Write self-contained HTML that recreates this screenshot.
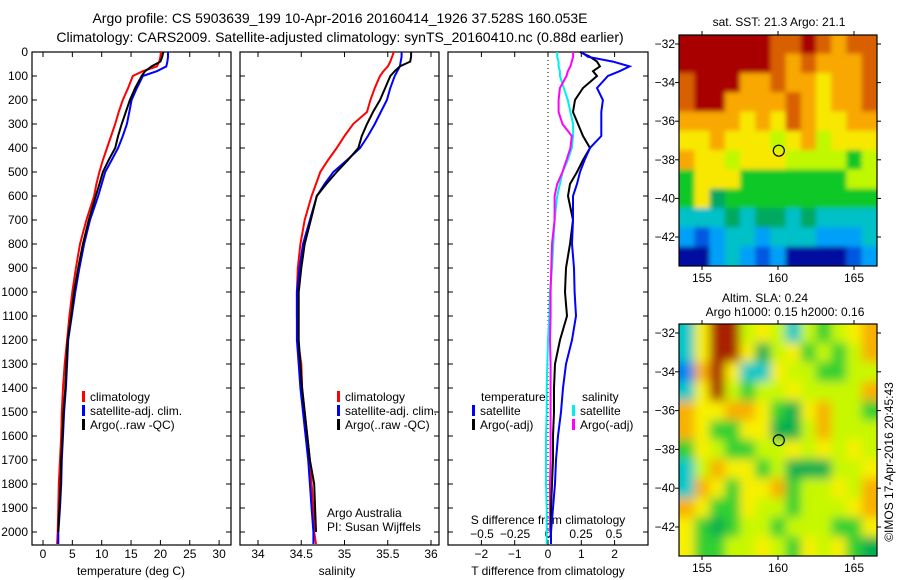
<!DOCTYPE html>
<html><head><meta charset="utf-8"><style>
body{margin:0;background:#fff}
svg{display:block;font-family:"Liberation Sans",sans-serif}
</style></head><body>
<svg id="s" width="900" height="580" viewBox="0 0 900 580" xmlns="http://www.w3.org/2000/svg">
<defs>
<filter id="b1" x="-10%" y="-10%" width="120%" height="120%"><feGaussianBlur stdDeviation="2.5"/></filter>
<filter id="b2" x="-10%" y="-10%" width="120%" height="120%"><feGaussianBlur stdDeviation="5"/></filter>
<clipPath id="c1"><rect x="679" y="35" width="198" height="231"/></clipPath>
<clipPath id="c2"><rect x="679" y="324" width="198" height="232"/></clipPath>
</defs>
<text x="340" y="23" font-size="14" text-anchor="middle">Argo profile: CS 5903639_199 10-Apr-2016 20160414_1926 37.528S 160.053E</text>
<text x="340" y="42" font-size="14" text-anchor="middle">Climatology: CARS2009. Satellite-adjusted climatology: synTS_20160410.nc (0.88d earlier)</text>
<g id="g"></g>
</svg>
<script>
// ---- data ----
const depths=[0,20,40,60,80,100,150,200,250,300,350,400,450,500,550,600,700,800,900,1000,1100,1200,1300,1400,1500,1600,1700,1800,1900,2000,2050];
const tClim=[20.1,20,19.8,19.4,17,15.3,14.5,13.6,12.9,12.3,11.6,10.9,10.2,9.6,9.1,8.7,7.4,6.3,5.6,5,4.5,4.1,3.7,3.4,3.2,3.1,2.9,2.7,2.6,2.5,2.4];
const tSat=[21.3,21.3,21.2,21,19.4,17,16,15.1,14.7,14.3,13.6,12.8,11.7,10.6,10,9.4,8,7,6.2,5.5,4.9,4.3,4.1,3.9,3.6,3.4,3.2,3.1,2.9,2.6,2.6];
const tArgo=[20.5,20.3,20,18.5,17.4,16.8,15.7,14.8,14.1,13.4,12.8,12.3,11.2,10.2,9.6,9,7.8,6.8,6,5.3,4.8,4.2,4,3.8,3.5,3.3,3.1,3,2.8,2.6,null];
const sClim=[35.57,35.55,35.53,35.5,35.45,35.41,35.35,35.3,35.26,35.1,35,34.91,34.81,34.72,34.67,34.62,34.54,34.49,34.46,34.45,34.45,34.46,34.5,34.51,34.54,34.57,34.6,34.62,34.64,34.65,34.67];
const sSat=[35.66,35.66,35.65,35.64,35.61,35.58,35.53,35.49,35.42,35.35,35.27,35.18,35.03,34.87,34.77,34.68,34.6,34.52,34.48,34.45,34.45,34.45,34.47,34.49,34.52,34.55,34.58,34.6,34.62,34.64,34.64];
const sArgo=[35.77,35.77,35.76,35.64,35.58,35.53,35.47,35.41,35.33,35.26,35.2,35.16,35.04,34.91,34.79,34.68,34.61,34.54,34.5,34.47,34.47,34.47,34.49,34.51,34.54,34.57,34.6,34.65,34.66,34.67,null];
const dTsat=[1,1.2,1.95,2.45,2.15,1.8,1.47,1.65,1.6,1.6,1.6,1.26,1.1,0.96,0.87,0.75,0.75,0.72,0.78,0.8,0.84,0.72,0.54,0.45,0.39,0.3,0.24,0.21,0.15,0.09,0.09];
const dTargo=[0.96,1.26,1.47,1.56,1.35,1.47,1.05,0.81,0.75,0.9,1.05,1.26,1.05,0.87,0.66,0.6,0.75,0.66,0.54,0.51,0.57,0.36,0.21,0.18,0.18,0.15,0.15,0.12,0.09,0.09,null];
const dSsat=[0.07,0.07,0.08,0.08,0.09,0.09,0.12,0.15,0.17,0.19,0.19,0.18,0.15,0.11,0.09,0.07,0.05,0.04,0.03,0.015,0.01,0,-0.005,-0.01,-0.01,-0.015,-0.015,-0.015,-0.01,-0.01,-0.01];
const dSargo=[0.19,0.19,0.18,0.17,0.15,0.14,0.09,0.08,0.08,0.11,0.18,0.17,0.14,0.11,0.07,0.05,0.05,0.03,0.025,0.02,0.02,0.015,0.02,0.02,0.02,0.02,0.02,0.015,0.015,0.015,null];
const depthTicks=[0,100,200,300,400,500,600,700,800,900,1000,1100,1200,1300,1400,1500,1600,1700,1800,1900,2000];
const tTicks=[0,5,10,15,20,25,30];
const sTicks=[34,34.5,35,35.5,36];
const sTickLabels=["34","34.5","35","35.5","36"];
const dTTicks=[-2,-1,0,1,2];
const dSTicks=[-0.5,-0.25,0,0.25,0.5];
const dSTickLabels=["\u22120.5","\u22120.25","0","0.25","0.5"];
const lonTicks=[155,160,165];
const latTicks=[-32,-34,-36,-38,-40,-42];
const sstGrid=[
"ddddddrrdrorr","ddddddrorooor","rdddoorooyoor","rddooooroyoor","ooooyoyroyyoo","yyoyyylyolyyy","oyylyyyllllgl","gyyygggggggll","gyGgggggggggg","cccGcGGcGcccc","bBbccbcccbbbc","nnbcbBbnnnnBb"];
const slaGrid=[
"cyddlylclglyo","cyddyGlyglglo","bodyccyllggll","cydlgllyllllo","oyyooygGyollg","oyggyyGGlolll","gylggllylylyl","cloyyglGGGlly","coygyyogllylo","oyggyllglllyo","ygGgllglllggy","yggllylgylygG"];
const sstColors={d:"#a80000",r:"#d86000",o:"#f8a800",y:"#f8e800",l:"#c0f800",g:"#10c828",G:"#00a860",c:"#00c0c8",b:"#00a0f8",B:"#0058e0",n:"#0010a0"," ":"#f8e800"};
const slaColors={d:"#a82000",r:"#d06000",o:"#f8b000",y:"#f8f000",l:"#c8f800",g:"#30d030",G:"#00b050",c:"#00c8c8",b:"#0080f0"," ":"#c8f800"};
// ---- drawing ----
const NS="http://www.w3.org/2000/svg";const G=document.getElementById('g');
function el(t,a,p){const e=document.createElementNS(NS,t);for(const k in a)e.setAttribute(k,a[k]);(p||G).appendChild(e);return e;}
const yD=d=>52+0.24*d;
const BOT=545,TOP=52;
function frame(x0,x1,name){
  const r=el('rect',{x:x0,y:TOP,width:x1-x0,height:BOT-TOP,fill:'none',stroke:'#000','stroke-width':1.2});
  
  
  depthTicks.forEach(d=>{el('line',{x1:x0,x2:x0+5,y1:yD(d),y2:yD(d),stroke:'#000'});el('line',{x1:x1-5,x2:x1,y1:yD(d),y2:yD(d),stroke:'#000'});});
}
function line(xs,xf,color,name,w){
  let p='';xs.forEach((v,i)=>{if(v===null)return;p+=(p?'L':'M')+xf(v).toFixed(1)+','+yD(depths[i]).toFixed(1);});
  const e=el('path',{d:p,fill:'none',stroke:color,'stroke-width':w||2});
  
  
}
function txt(x,y,s,o){const e=el('text',Object.assign({x:x,y:y,'font-size':12},o||{}));e.textContent=s;return e;}
// panel 1
const xT=v=>43+5.87*v;
frame(32,231,'temperature-panel');
depthTicks.forEach(d=>{const t=txt(28,yD(d)+4,String(d),{'text-anchor':'end'});});
tTicks.forEach(v=>{el('line',{x1:xT(v),x2:xT(v),y1:BOT,y2:BOT-5,stroke:'#000'});el('line',{x1:xT(v),x2:xT(v),y1:TOP,y2:TOP+5,stroke:'#000'});const t=txt(xT(v),558,String(v),{'text-anchor':'middle'});});
txt(131,575,'temperature (deg C)',{'text-anchor':'middle'});
line(tClim,xT,'#f00','temp-climatology-line');line(tSat,xT,'#00f','temp-satellite-line');line(tArgo,xT,'#000','temp-argo-line');
function legend(x,y,items,nm){items.forEach((it,i)=>{el('rect',{x:x,y:y+i*14-6,width:3,height:11,fill:it[0]});const t=txt(x+8,y+i*14+4,it[1]);});}
legend(82,397,[['#f00','climatology'],['#00f','satellite-adj. clim.'],['#000','Argo(..raw -QC)']],'temperature-legend');
// panel 2
const xS=v=>258+86.5*(v-34);
frame(240,439,'salinity-panel');
sTicks.forEach((v,i)=>{el('line',{x1:xS(v),x2:xS(v),y1:BOT,y2:BOT-5,stroke:'#000'});el('line',{x1:xS(v),x2:xS(v),y1:TOP,y2:TOP+5,stroke:'#000'});const t=txt(xS(v),558,sTickLabels[i],{'text-anchor':'middle'});});
txt(337,575,'salinity',{'text-anchor':'middle'});
line(sClim,xS,'#f00','sal-climatology-line');line(sSat,xS,'#00f','sal-satellite-line');line(sArgo,xS,'#000','sal-argo-line');
legend(337,397,[['#f00','climatology'],['#00f','satellite-adj. clim.'],['#000','Argo(..raw -QC)']],'salinity-legend');
txt(327,517,'Argo Australia');
txt(327,531,'PI: Susan Wijffels');
// panel 3
const xdT=v=>548+33.3*v, xdS=v=>548+132*v;
frame(448,648,'difference-panel');
el('line',{x1:548,x2:548,y1:TOP,y2:BOT,stroke:'#000','stroke-dasharray':'1,3'});
dTTicks.forEach(v=>{el('line',{x1:xdT(v),x2:xdT(v),y1:BOT,y2:BOT-5,stroke:'#000'});el('line',{x1:xdT(v),x2:xdT(v),y1:TOP,y2:TOP+5,stroke:'#000'});const t=txt(xdT(v),558,v<0?'\u2212'+(-v):String(v),{'text-anchor':'middle'});});
dSTicks.forEach((v,i)=>{const t=txt(xdS(v),538,dSTickLabels[i],{'text-anchor':'middle'});});
txt(548,524,'S difference from climatology',{'text-anchor':'middle'});
txt(548,575,'T difference from climatology',{'text-anchor':'middle'});
line(dSsat,xdS,'#0ee','s-diff-satellite-line');line(dSargo,xdS,'#f0f','s-diff-argo-line');
line(dTargo,xdT,'#000','t-diff-argo-line');line(dTsat,xdT,'#00f','t-diff-satellite-line');
txt(481,401,'temperature');
txt(582,401,'salinity');
legend(472,411,[['#00f','satellite'],['#000','Argo(-adj)']],'diff-temp-legend');
legend(572,411,[['#0ee','satellite'],['#f0f','Argo(-adj)']],'diff-sal-legend');
// maps
function map(y0,y1,lat32,lat42,grid,cols,name,clip,filt){
  const x0=679,x1=877;const xL=v=>702+15.2*(v-155);const yL=v=>lat32+(lat42-lat32)*(v+32)/-10;
  const outer=el('g',{'clip-path':'url(#'+clip+')'});
  const g=el('g',{filter:'url(#'+filt+')'},outer);
  const cw=(xL(166.5)-xL(153.5))/13,ch=(yL(-43.5)-yL(-31.5))/12;
  grid.forEach((row,r)=>{for(let c=0;c<13;c++){const k=row[c]||' ';
    const ex0=c===0?-10:0, ex1=c===12?10:0, ey0=r===0?-10:0, ey1=r===11?10:0;
    el('rect',{x:xL(153.5)+c*cw+ex0,y:yL(-31.5)+r*ch+ey0,width:cw+0.5-ex0+ex1,height:ch+0.5-ey0+ey1,fill:cols[k]||cols[' ']},g);}});
  el('rect',{x:x0,y:y0,width:x1-x0,height:y1-y0,fill:'none',stroke:'#000','stroke-width':1.2});
  lonTicks.forEach(v=>{el('line',{x1:xL(v),x2:xL(v),y1:y1,y2:y1+4,stroke:'#000'});el('line',{x1:xL(v),x2:xL(v),y1:y0-4,y2:y0,stroke:'#000'});const t=txt(xL(v),y1+16,String(v),{'text-anchor':'middle'});});
  latTicks.forEach(v=>{el('line',{x1:x0-4,x2:x0,y1:yL(v),y2:yL(v),stroke:'#000'});el('line',{x1:x1,x2:x1+4,y1:yL(v),y2:yL(v),stroke:'#000'});const t=txt(675,yL(v)+4,'\u2212'+(-v),{'text-anchor':'end'});});
  el('circle',{cx:xL(160.053),cy:yL(-37.528),r:5.5,fill:'none',stroke:'#000','stroke-width':1.2});
}
map(35,266,44,237,sstGrid,sstColors,'sst-map','c1','b1');
map(324,556,333,527,slaGrid,slaColors,'sla-map','c2','b2');
txt(779,26,'sat. SST: 21.3 Argo: 21.1',{'text-anchor':'middle'});
txt(765,302,'Altim. SLA: 0.24',{'text-anchor':'middle'});
txt(785,316,'Argo h1000: 0.15 h2000: 0.16',{'text-anchor':'middle'});
const c=txt(0,0,'\u00a9IMOS 17-Apr-2016 20:45:43',{'text-anchor':'middle',transform:'translate(893,462) rotate(-90)'});

</script>
</body></html>
